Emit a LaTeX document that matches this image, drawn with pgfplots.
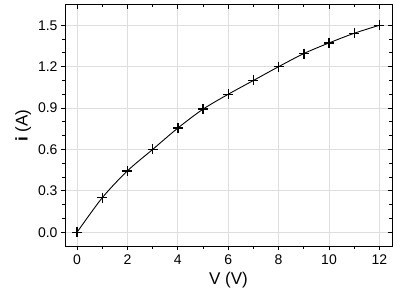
\documentclass[border=0pt]{standalone}
\usepackage{fontspec}
\setmainfont{Liberation Sans}
\usepackage{pgfplots}
\pgfplotsset{compat=1.18}
\begin{document}
\begin{tikzpicture}[x=1pt,y=1pt]
\path[use as bounding box] (0,0) rectangle (400,298);
\pgfplotsset{common/.style={
  at={(65pt,52pt)}, anchor=south west,
  scale only axis, width=327pt, height=241pt,
  xmin=-0.48, xmax=12.5, ymin=-0.1, ymax=1.647,
  xtick={0,2,...,12}, minor x tick num=1,
  ytick={0,0.3,...,1.51}, minor y tick num=2,
  major tick length=4pt, minor tick length=2.5pt,
  every tick/.style={black, line width=0.8pt},
}}
\begin{axis}[common,
  tick align=outside,
  xtick pos=bottom, ytick pos=left,
  grid=major,
  major grid style={draw=black!13, line width=0.8pt},
  axis line style={line width=1pt},
  /pgf/number format/assume math mode=true,
  yticklabel style={/pgf/number format/fixed, /pgf/number format/fixed zerofill, /pgf/number format/precision=1},
  tick label style={font=\fontsize{14}{16}\selectfont},
  xticklabel style={yshift=-1pt},
  xlabel={V (V)}, ylabel={\textbf{i} (A)},
  label style={font=\fontsize{17}{19}\selectfont},
  xlabel style={yshift=-1pt},
  ylabel style={yshift=0pt},
]
\addplot[black, line width=0.9pt, smooth, mark=+, mark size=5pt, mark options={line width=1.4pt}] coordinates {
(0,0) (1,0.25) (2,0.445) (3,0.60) (4,0.755) (5,0.892) (6,1.0) (7,1.10) (8,1.2) (9,1.295) (10,1.372) (11,1.442) (12,1.5)
};
\end{axis}
\begin{axis}[common,
  tick align=inside,
  xtick pos=top, ytick pos=right,
  xticklabels={}, yticklabels={},
  axis line style={line width=1pt},
]
\end{axis}
\end{tikzpicture}
\end{document}
